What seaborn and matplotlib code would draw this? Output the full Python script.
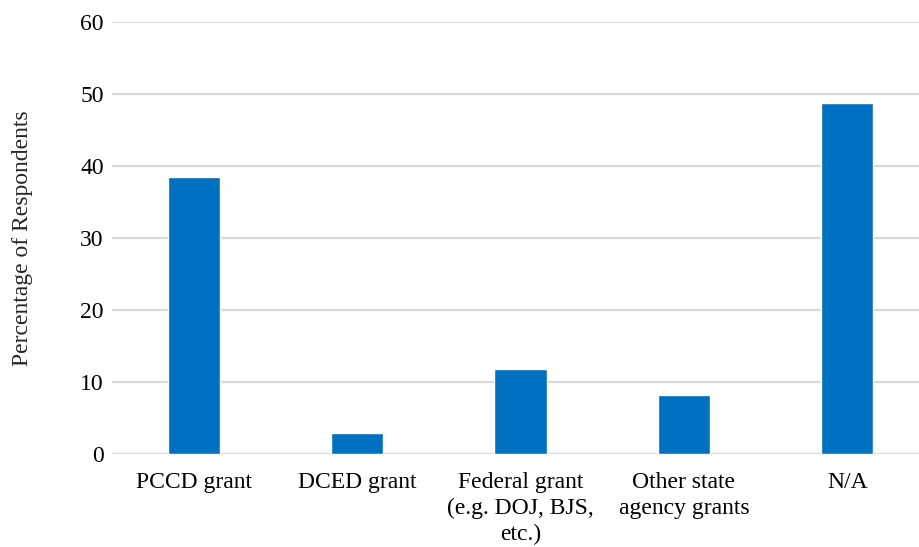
import matplotlib
matplotlib.use("Agg")
import matplotlib.pyplot as plt
import seaborn as sns
import pandas as pd

categories = ["PCCD grant", "DCED grant", "Federal grant\n(e.g. DOJ, BJS,\netc.)",
              "Other state\nagency grants", "N/A"]
percentages = [38.5, 2.9, 11.8, 8.2, 48.7]

df = pd.DataFrame({"source": categories, "pct": percentages})

sns.set_style("white")
plt.rcParams["font.family"] = ["Liberation Serif", "DejaVu Serif"]

fig = plt.figure(figsize=(9.19, 5.47), dpi=100)
ax = fig.add_axes([112 / 919, 1 - 454 / 547, 1 - 112 / 919, (454 - 22) / 547])

sns.barplot(data=df, x="source", y="pct", color="#0070C0", saturation=1,
            width=0.32, ax=ax, zorder=3)

ax.set_ylim(0, 60)
ax.set_yticks(range(0, 61, 10))
ax.set_xlim(-0.5, 4.5 - 10 / 163.5)
ax.yaxis.grid(True, color="#d9d9d9", linewidth=1.6, zorder=0)
ax.set_axisbelow(True)
for s in ax.spines.values():
    s.set_visible(False)
ax.tick_params(axis="both", length=0, labelsize=17, colors="black")
ax.tick_params(axis="y", pad=6)
ax.tick_params(axis="x", pad=13)
for lbl in ax.get_xticklabels():
    lbl.set_linespacing(1.3)
ax.set_xlabel("")
ax.set_ylabel("Percentage of Respondents", fontsize=17, labelpad=34)

fig.savefig("out.png", dpi=100)
